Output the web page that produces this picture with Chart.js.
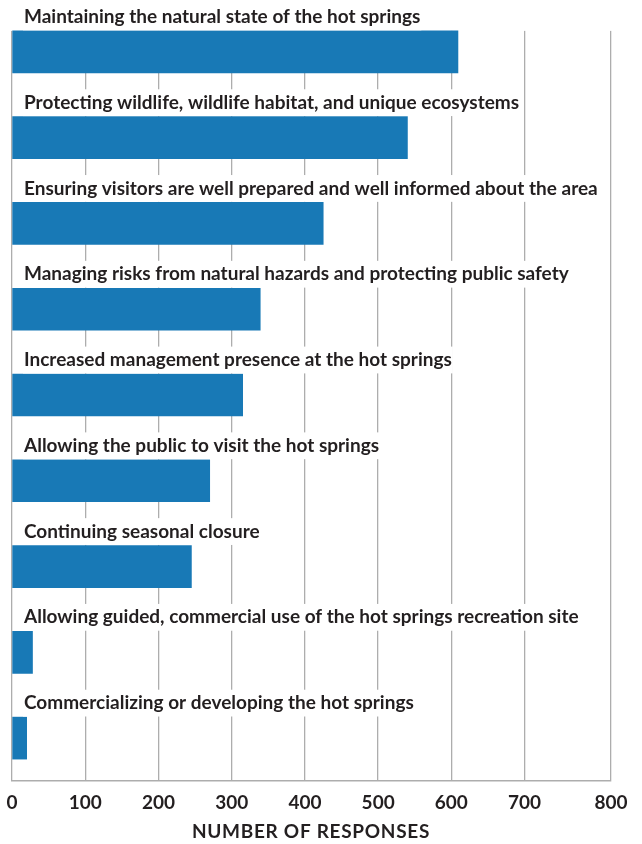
<!DOCTYPE html>
<html>
<head>
<meta charset="utf-8">
<style>
  html, body { margin: 0; padding: 0; background: #ffffff; }
  #wrap { position: relative; width: 642px; height: 844px; }
</style>
<script src="https://cdn.jsdelivr.net/npm/chart.js@4.4.1/dist/chart.umd.min.js"></script>
</head>
<body>
<div id="wrap"><canvas id="c" width="642" height="844"></canvas></div>
<script>
const categories = [
  "Maintaining the natural state of the hot springs",
  "Protecting wildlife, wildlife habitat, and unique ecosystems",
  "Ensuring visitors are well prepared and well informed about the area",
  "Managing risks from natural hazards and protecting public safety",
  "Increased management presence at the hot springs",
  "Allowing the public to visit the hot springs",
  "Continuing seasonal closure",
  "Allowing guided, commercial use of the hot springs recreation site",
  "Commercializing or developing the hot springs"
];
const responses = [609, 540, 425, 339, 315, 270, 245, 28, 20];
const xTickValues = [0, 100, 200, 300, 400, 500, 600, 700, 818];
const xTickLabels = ["0", "100", "200", "300", "400", "500", "600", "700", "800"];
const xAxisTitle = "NUMBER OF RESPONSES";

const FONT = "Lato";
const TEXT = "#231f20";
const GRID = "#adadad";

const coverTop = {
  id: "coverTop",
  beforeDatasetsDraw(chart) {
    const meta = chart.getDatasetMeta(0);
    const el = meta.data[0];
    if (!el) return;
    const top = el.y - el.height / 2;
    const a = chart.chartArea;
    const ctx = chart.ctx;
    ctx.save();
    ctx.fillStyle = "#ffffff";
    ctx.fillRect(a.left - 3, a.top - 3, a.right - a.left + 6, top - a.top + 3);
    ctx.restore();
  }
};

const xTitle = {
  id: "xTitle",
  afterDraw(chart) {
    const ctx = chart.ctx;
    ctx.save();
    ctx.font = "bold 19px " + FONT;
    ctx.fillStyle = TEXT;
    ctx.textAlign = "center";
    ctx.textBaseline = "middle";
    try { ctx.letterSpacing = "0.7px"; } catch (e) {}
    ctx.fillText(xAxisTitle, 311, 832);
    ctx.restore();
  }
};

new Chart(document.getElementById("c"), {
  type: "bar",
  data: {
    labels: categories,
    datasets: [{
      data: responses,
      backgroundColor: "#1879b6",
      borderWidth: 0,
      barThickness: 42
    }]
  },
  options: {
    indexAxis: "y",
    responsive: false,
    animation: false,
    maintainAspectRatio: false,
    layout: { padding: { left: 12, right: 31, top: 9, bottom: 0 } },
    plugins: {
      legend: { display: false },
      tooltip: { enabled: false }
    },
    scales: {
      x: {
        type: "linear",
        min: 0,
        max: 818,
        afterBuildTicks(scale) {
          scale.ticks = xTickValues.map(v => ({ value: v }));
        },
        afterFit(scale) {
          scale.height = 63;
          scale.paddingLeft = 0; scale.paddingRight = 0;
        },
        grid: { color: GRID, lineWidth: 1.3, drawTicks: false },
        border: { display: true, color: GRID, width: 1.5 },
        ticks: {
          padding: 10,
          color: TEXT,
          font: { family: FONT, size: 19, weight: "bold" },
          maxRotation: 0,
          autoSkip: false,
          callback(value, index) { return xTickLabels[index]; }
        }
      },
      y: {
        afterFit(scale) {
          scale.width = 0;
          scale.paddingTop = 0; scale.paddingBottom = 0;
        },
        grid: { display: false },
        border: { display: false },
        ticks: {
          mirror: true,
          padding: 12,
          labelOffset: -35,
          z: 1,
          color: TEXT,
          font: { family: FONT, size: 19, weight: "bold" },
          showLabelBackdrop: true,
          backdropColor: "#ffffff",
          backdropPadding: { top: 2, bottom: 2, left: 1, right: 1 }
        }
      }
    }
  },
  plugins: [coverTop, xTitle]
});
</script>
</body>
</html>
